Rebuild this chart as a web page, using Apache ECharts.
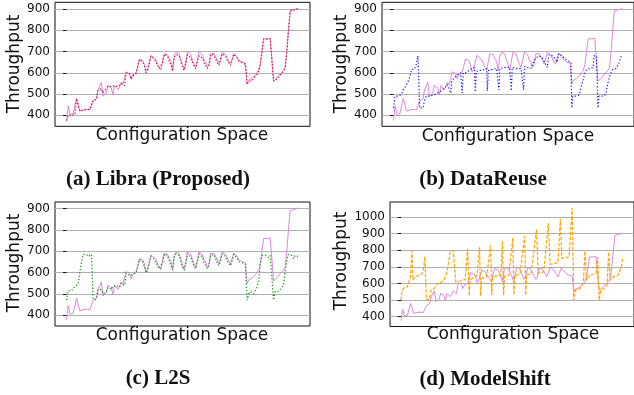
<!DOCTYPE html>
<html><head><meta charset="utf-8">
<script src="https://cdn.jsdelivr.net/npm/echarts@6/dist/echarts.min.js"></script>
<style>html,body{margin:0;padding:0;background:#fff}#c{width:634px;height:395px}</style>
</head><body><div id="c"></div>
<script>
// x = configuration index, y = throughput
const truth = [[0,375],[1,445],[2,405],[3,410],[4,408],[5,405],[6,480],[7,485],[8,420],[10,425],[12,428],[14,425],[15,432],[16,468],[17,465],[18,478],[19,520],[20,525],[21,555],[22,490],[23,498],[24,505],[25,540],[26,538],[27,530],[28,495],[29,540],[30,545],[31,520],[32,535],[33,555],[34,545],[35,538],[36,605],[37,602],[38,595],[39,570],[40,590],[41,595],[42,600],[43,598],[44,665],[45,662],[46,658],[47,640],[48,605],[49,620],[50,615],[51,682],[52,678],[53,670],[54,660],[55,640],[56,625],[57,612],[58,655],[59,690],[60,688],[61,685],[62,665],[63,655],[64,610],[65,680],[66,695],[67,700],[68,690],[69,662],[70,640],[71,615],[72,650],[73,700],[74,695],[75,688],[76,660],[77,640],[78,625],[79,660],[80,698],[81,692],[82,685],[83,660],[84,650],[85,625],[86,640],[87,690],[88,697],[89,690],[90,675],[91,660],[92,642],[93,665],[94,697],[95,692],[96,685],[97,670],[98,655],[99,640],[100,665],[101,692],[102,688],[103,675],[104,660],[105,655],[106,650],[107,648],[108,645],[109,548],[110,565],[111,562],[112,575],[113,580],[114,590],[115,598],[116,610],[117,640],[118,700],[119,760],[120,762],[121,760],[122,760],[123,762],[124,758],[125,560],[126,568],[127,575],[128,580],[129,595],[130,600],[131,610],[132,625],[133,700],[134,800],[135,890],[136,895],[137,895],[138,896],[139,900],[140,905]];

const libra = [[0,375],[1,400],[2,405],[3,402],[4,405],[5,402],[6,478],[7,482],[8,420],[10,425],[12,428],[14,428],[15,432],[16,470],[17,465],[18,475],[19,520],[20,525],[21,525],[22,505],[23,515],[24,520],[25,538],[26,535],[27,535],[28,530],[29,540],[30,545],[31,535],[32,540],[33,550],[34,545],[35,540],[36,600],[37,598],[38,595],[39,570],[40,585],[41,590],[42,598],[43,598],[44,662],[45,660],[46,650],[47,630],[48,600],[49,615],[50,612],[51,678],[52,675],[53,665],[54,650],[55,635],[56,620],[57,612],[58,650],[59,688],[60,682],[61,678],[62,655],[63,640],[64,608],[65,675],[66,685],[67,688],[68,680],[69,650],[70,630],[71,612],[72,645],[73,685],[74,682],[75,670],[76,650],[77,630],[78,620],[79,655],[80,680],[81,678],[82,670],[83,648],[84,640],[85,620],[86,635],[87,680],[88,690],[89,680],[90,665],[91,648],[92,635],[93,660],[94,690],[95,685],[96,678],[97,660],[98,648],[99,635],[100,660],[101,688],[102,685],[103,670],[104,655],[105,650],[106,648],[107,645],[108,640],[109,545],[110,560],[111,560],[112,562],[113,570],[114,585],[115,595],[116,608],[117,640],[118,700],[119,760],[120,760],[121,758],[122,760],[123,760],[124,758],[125,560],[126,565],[127,570],[128,575],[129,590],[130,598],[131,608],[132,625],[133,700],[134,800],[135,890],[136,895],[137,895],[138,896],[139,900],[140,903]];

const dataReuse = [[0,435],[1,490],[3,490],[4,492],[5,500],[6,520],[7,530],[8,545],[9,560],[10,580],[11,615],[12,620],[13,618],[14,640],[15,680],[15.6,680],[16,435],[18,435],[19,470],[20,490],[22,490],[24,495],[26,500],[28,510],[30,520],[32,535],[33,545],[34,550],[35,505],[35.5,560],[37,575],[39,590],[41,600],[42,505],[42.6,600],[44,600],[46,610],[48,620],[49.5,625],[50,510],[50.6,605],[52,610],[55,615],[57,620],[57.4,515],[58,610],[60,615],[63,620],[64.5,520],[65,620],[68,625],[71,625],[72,515],[72.6,625],[75,620],[78,620],[79.5,520],[80.1,630],[82,625],[84,620],[85,640],[87,670],[89,680],[91,670],[93,640],[94,625],[95,685],[97,680],[99,665],[100,650],[101,690],[103,680],[105,665],[107,655],[108.5,650],[109,435],[109.5,490],[111,490],[113,492],[114,510],[115,540],[116,570],[117,600],[118,615],[120,620],[122,625],[122.5,680],[124,680],[124.6,680],[125,435],[125.5,490],[127,490],[129,492],[130,510],[131,550],[132,580],[133,600],[134,615],[136,620],[137,620],[138,650],[139,675],[140,680]];

const l2s = [[0,470],[1,515],[3,515],[4,510],[5,535],[6,540],[7,545],[8,600],[9,650],[10,685],[12,685],[13,675],[14,680],[15,685],[16,480],[17,470],[18,480],[19,520],[20,515],[21,520],[22,500],[23,500],[24,510],[25,530],[26,535],[27,520],[28,535],[29,530],[30,540],[31,540],[32,530],[33,550],[34,548],[35,540],[36,598],[37,596],[38,585],[39,578],[40,592],[41,596],[42,600],[43,598],[44,662],[45,660],[46,650],[47,625],[48,598],[49,612],[50,610],[51,678],[52,675],[53,662],[54,648],[55,630],[56,618],[57,610],[58,650],[59,688],[60,684],[61,678],[62,655],[63,632],[64,612],[65,670],[66,688],[67,690],[68,680],[69,648],[70,625],[71,612],[72,640],[73,690],[74,685],[75,672],[76,650],[77,630],[78,618],[79,652],[80,688],[81,684],[82,672],[83,645],[84,632],[85,618],[86,632],[87,682],[88,690],[89,684],[90,666],[91,645],[92,632],[93,655],[94,688],[95,684],[96,676],[97,655],[98,642],[99,632],[100,656],[101,686],[102,684],[103,668],[104,652],[105,648],[106,645],[107,645],[108,640],[109,470],[110,500],[111,510],[112,505],[113,500],[114,505],[115,530],[116,560],[117,640],[118,680],[120,680],[121,675],[122,670],[123,680],[124,680],[125,470],[126,510],[128,510],[129,512],[130,530],[131,545],[132,600],[133,660],[134,685],[135,682],[136,680],[137,665],[138,680],[140,675]];

const modelShift = [[0,500],[0.6,560],[2,575],[4,580],[5,610],[6,650],[6.8,795],[7.5,620],[9,640],[11,650],[13,655],[14,680],[15,760],[16,500],[18,505],[19,560],[21,570],[23,600],[25,605],[27,620],[29,670],[31,790],[33,800],[34.5,610],[37,615],[39,620],[40.5,625],[42,810],[43,525],[43.5,620],[46,640],[48,650],[49.5,820],[50.2,525],[50.8,630],[54,640],[56.5,830],[57.2,530],[57.8,640],[60,645],[63,650],[64,855],[64.7,530],[65.3,645],[68,650],[70.5,875],[71.2,530],[71.8,650],[75,655],[78,885],[78.7,530],[79.3,655],[82,655],[85.5,925],[86.5,660],[88,665],[90,670],[93,965],[94,715],[96,720],[99,725],[100.5,990],[101.5,750],[103,755],[106,760],[108,1055],[109,500],[110,560],[113,570],[115,600],[116,795],[117,620],[119,650],[123,660],[124,760],[125,500],[126,560],[128,570],[130,590],[131,790],[132,620],[134,640],[137,650],[139,700],[140,760]];

const ticksMain = [400, 500, 600, 700, 800, 900];
const ticksShift = [400, 500, 600, 700, 800, 900, 1000];
const captions = ['(a) Libra (Proposed)', '(b) DataReuse', '(c) L2S', '(d) ModelShift'];
const xName = 'Configuration Space';
const yName = 'Throughput';

const panels = [
  {grid:{left:55, top:2.3, width:255, height:124}, yMin:348.5, yMax:931.5, ticks:ticksMain, pred:libra, color:'#DC143C', dash:[1.3,2], w:1.3,
   xl:[182,136], yl:[15,64], cap:[158,180]},
  {grid:{left:382, top:2.3, width:258, height:124}, yMin:348.5, yMax:931.5, ticks:ticksMain, pred:dataReuse, color:'#1a1aff', dash:[1.3,2], w:1.2,
   xl:[508,136.5], yl:[342,64], cap:[483,180]},
  {grid:{left:55, top:202, width:255, height:124}, yMin:348.5, yMax:931.5, ticks:ticksMain, pred:l2s, color:'#1f9a1f', dash:[1.3,2], w:1.3,
   xl:[182,336], yl:[15,263], cap:[158,379]},
  {grid:{left:390, top:202, width:252, height:124.5}, yMin:341, yMax:1091, ticks:ticksShift, pred:modelShift, color:'#FFA500', dash:[3.5,1.6], w:1.2,
   xl:[513,335], yl:[342,261], cap:[485,380]}
];

const grids = [], xAxes = [], yAxes = [], series = [], graphics = [];
panels.forEach((p, i) => {
  grids.push(Object.assign({show:true, borderColor:'#111', borderWidth:1, backgroundColor:'transparent', containLabel:false}, p.grid));
  xAxes.push({type:'value', gridIndex:i, min:-7, max:147, axisLine:{show:false}, axisTick:{show:false}, axisLabel:{show:false}, splitLine:{show:false}});
  yAxes.push({type:'value', gridIndex:i, min:p.yMin, max:p.yMax,
    axisLine:{show:false},
    axisTick:{show:true, length:3.5, customValues:p.ticks, lineStyle:{color:'#111', width:1}},
    axisLabel:{show:true, customValues:p.ticks, margin:5, color:'#111', fontFamily:'DejaVu Sans', fontSize:12, formatter:v => String(v)},
    splitLine:{show:true, lineStyle:{color:'#b0b0b0', width:1}}});
  series.push({type:'line', xAxisIndex:i, yAxisIndex:i, data:truth, symbol:'none', lineStyle:{color:'#DD88DD', width:1}, z:2, silent:true});
  series.push({type:'line', xAxisIndex:i, yAxisIndex:i, data:p.pred, symbol:'none', lineStyle:{color:p.color, width:p.w, type:p.dash}, z:3, silent:true});
  graphics.push({type:'text', x:p.xl[0], y:p.xl[1], style:{text:xName, font:'17px "DejaVu Sans"', fill:'#111', align:'center', verticalAlign:'middle'}});
  graphics.push({type:'text', x:p.yl[0], y:p.yl[1], rotation:Math.PI/2, style:{text:yName, font:'17px "DejaVu Sans"', fill:'#111', align:'center', verticalAlign:'middle'}});
  graphics.push({type:'text', x:p.cap[0], y:p.cap[1], style:{text:captions[i], font:'bold 21px "Liberation Serif"', fill:'#111', align:'center', verticalAlign:'middle'}});
});

const chart = echarts.init(document.getElementById('c'), null, {renderer:'canvas'});
chart.setOption({animation:false, backgroundColor:'#fff', grid:grids, xAxis:xAxes, yAxis:yAxes, series:series, graphic:graphics});
</script></body></html>
